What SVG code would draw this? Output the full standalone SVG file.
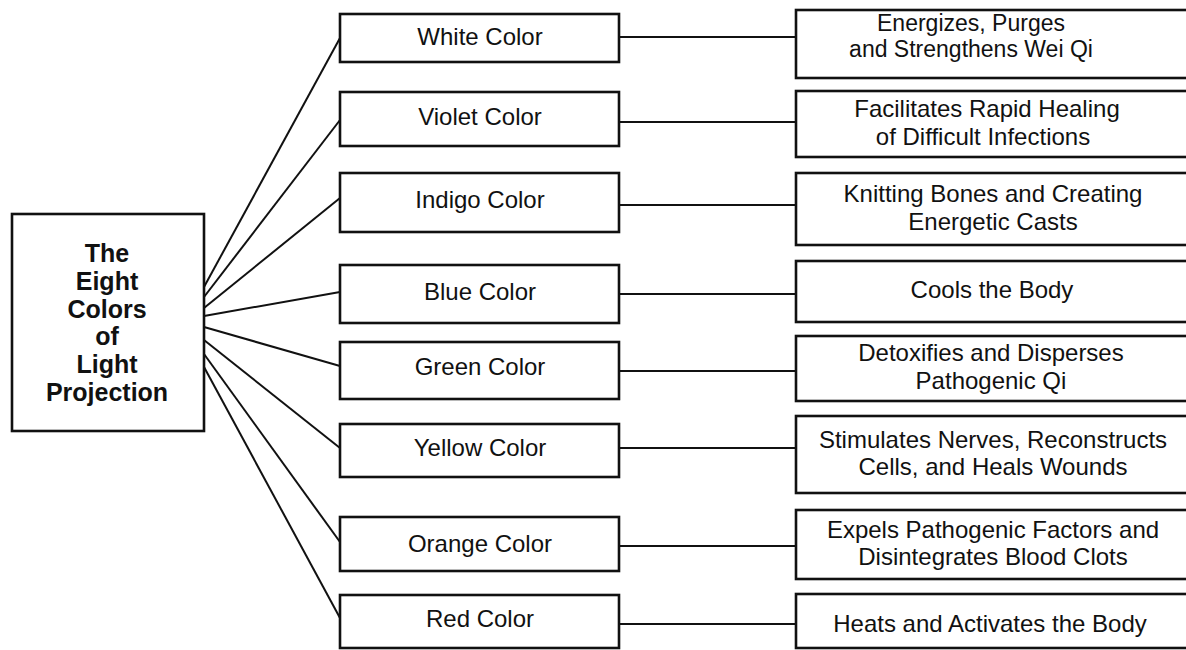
<svg xmlns="http://www.w3.org/2000/svg" width="1186" height="650" viewBox="0 0 1186 650">
  <style>
    .box { fill: #fff; stroke: #111; stroke-width: 2.6; }
    .link { fill: none; stroke: #111; stroke-width: 2; }
    .lbl { font-family: "Liberation Sans", Arial, sans-serif; font-size: 24px; fill: #111; text-anchor: middle; }
    .tight { font-size: 23px; }
    .title { font-family: "Liberation Sans", Arial, sans-serif; font-size: 25px; font-weight: bold; fill: #111; text-anchor: middle; }
  </style>
  <rect width="1186" height="650" fill="#fff"/>

  <!-- connectors: fan from the title box, then straight links to the effects -->
  <g id="connectors">
    <line class="link" x1="204" y1="287" x2="340" y2="38"/>
    <line class="link" x1="204" y1="297" x2="340" y2="120"/>
    <line class="link" x1="204" y1="308" x2="340" y2="198"/>
    <line class="link" x1="204" y1="316" x2="340" y2="292"/>
    <line class="link" x1="204" y1="327" x2="340" y2="366"/>
    <line class="link" x1="204" y1="340" x2="340" y2="448"/>
    <line class="link" x1="204" y1="354" x2="340" y2="542"/>
    <line class="link" x1="204" y1="367" x2="340" y2="618"/>

    <line class="link" x1="619" y1="37" x2="796" y2="37"/>
    <line class="link" x1="619" y1="122" x2="796" y2="122"/>
    <line class="link" x1="619" y1="205" x2="796" y2="205"/>
    <line class="link" x1="619" y1="294" x2="796" y2="294"/>
    <line class="link" x1="619" y1="371" x2="796" y2="371"/>
    <line class="link" x1="619" y1="448" x2="796" y2="448"/>
    <line class="link" x1="619" y1="546" x2="796" y2="546"/>
    <line class="link" x1="619" y1="624" x2="796" y2="624"/>
  </g>

  <g id="title">
    <rect class="box" x="12" y="214" width="192" height="217"/>
    <text class="title" x="107" y="262">The</text>
    <text class="title" x="107" y="290">Eight</text>
    <text class="title" x="107" y="318">Colors</text>
    <text class="title" x="107" y="345">of</text>
    <text class="title" x="107" y="373">Light</text>
    <text class="title" x="107" y="401">Projection</text>
  </g>

  <!-- colour nodes -->
  <g id="white">
    <rect class="box" x="340" y="14" width="279" height="48"/>
    <text class="lbl" x="480" y="45">White Color</text>
  </g>
  <g id="violet">
    <rect class="box" x="340" y="92" width="279" height="54"/>
    <text class="lbl" x="480" y="125">Violet Color</text>
  </g>
  <g id="indigo">
    <rect class="box" x="340" y="173" width="279" height="59"/>
    <text class="lbl" x="480" y="208">Indigo Color</text>
  </g>
  <g id="blue">
    <rect class="box" x="340" y="265" width="279" height="58"/>
    <text class="lbl" x="480" y="300">Blue Color</text>
  </g>
  <g id="green">
    <rect class="box" x="340" y="342" width="279" height="57"/>
    <text class="lbl" x="480" y="375">Green Color</text>
  </g>
  <g id="yellow">
    <rect class="box" x="340" y="424" width="279" height="53"/>
    <text class="lbl" x="480" y="456">Yellow Color</text>
  </g>
  <g id="orange">
    <rect class="box" x="340" y="517" width="279" height="54"/>
    <text class="lbl" x="480" y="552">Orange Color</text>
  </g>
  <g id="red">
    <rect class="box" x="340" y="595" width="279" height="53"/>
    <text class="lbl" x="480" y="627">Red Color</text>
  </g>

  <!-- effect nodes (run past the right edge) -->
  <g id="white-effect">
    <rect class="box" x="796" y="10" width="400" height="68"/>
    <text class="lbl tight" x="971" y="31">Energizes, Purges</text>
    <text class="lbl tight" x="971" y="57">and Strengthens Wei Qi</text>
  </g>
  <g id="violet-effect">
    <rect class="box" x="796" y="91" width="400" height="66"/>
    <text class="lbl" x="987" y="117">Facilitates Rapid Healing</text>
    <text class="lbl" x="983" y="145">of Difficult Infections</text>
  </g>
  <g id="indigo-effect">
    <rect class="box" x="796" y="173" width="400" height="72"/>
    <text class="lbl" x="993" y="202">Knitting Bones and Creating</text>
    <text class="lbl" x="993" y="230">Energetic Casts</text>
  </g>
  <g id="blue-effect">
    <rect class="box" x="796" y="261" width="400" height="61"/>
    <text class="lbl" x="992" y="298">Cools the Body</text>
  </g>
  <g id="green-effect">
    <rect class="box" x="796" y="336" width="400" height="65"/>
    <text class="lbl" x="991" y="361">Detoxifies and Disperses</text>
    <text class="lbl" x="991" y="389">Pathogenic Qi</text>
  </g>
  <g id="yellow-effect">
    <rect class="box" x="796" y="416" width="400" height="77"/>
    <text class="lbl" x="993" y="448">Stimulates Nerves, Reconstructs</text>
    <text class="lbl" x="993" y="475">Cells, and Heals Wounds</text>
  </g>
  <g id="orange-effect">
    <rect class="box" x="796" y="510" width="400" height="69"/>
    <text class="lbl" x="993" y="538">Expels Pathogenic Factors and</text>
    <text class="lbl" x="993" y="565">Disintegrates Blood Clots</text>
  </g>
  <g id="red-effect">
    <rect class="box" x="796" y="594" width="400" height="54"/>
    <text class="lbl" x="990" y="632">Heats and Activates the Body</text>
  </g>
</svg>
